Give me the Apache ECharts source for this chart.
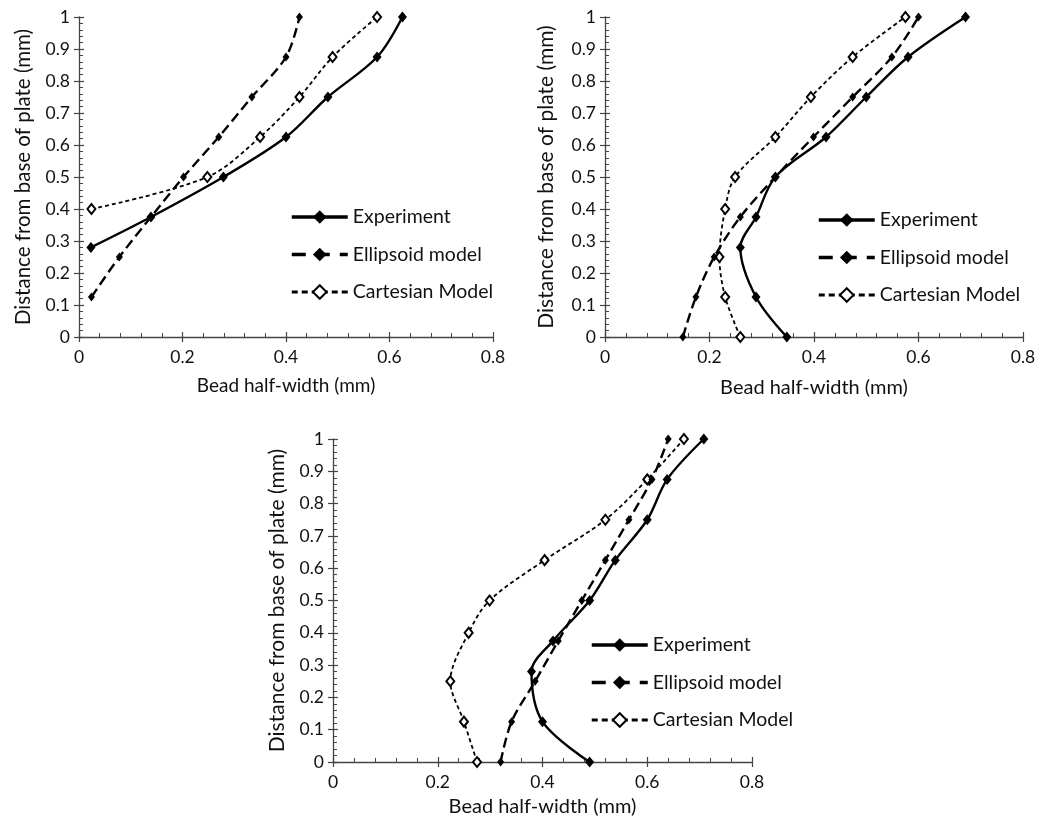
<!DOCTYPE html>
<html>
<head>
<meta charset="utf-8">
<script src="https://cdn.jsdelivr.net/npm/echarts@6/dist/echarts.min.js"></script>
<style>
  html, body { margin: 0; padding: 0; background: #fff; }
  #box { width: 1040px; height: 827px; }
</style>
</head>
<body>
<div id="box"></div>
<script>
// series names
var names = ["Experiment", "Ellipsoid model", "Cartesian Model"];

// tick labels
var xTicks = ["0", "0.2", "0.4", "0.6", "0.8"];
var yTicks = ["0", "0.1", "0.2", "0.3", "0.4", "0.5", "0.6", "0.7", "0.8", "0.9", "1"];

// panel 1 (top left)
var p1ExpH = [0.28, 0.375, 0.5, 0.625, 0.75, 0.875, 1];
var p1ExpW = [0.023, 0.139, 0.279, 0.4, 0.481, 0.576, 0.625];
var p1EllH = [0.125, 0.25, 0.375, 0.5, 0.625, 0.75, 0.875, 1];
var p1EllW = [0.024, 0.078, 0.139, 0.202, 0.27, 0.334, 0.4, 0.426];
var p1CarH = [0.4, 0.5, 0.625, 0.75, 0.875, 1];
var p1CarW = [0.024, 0.248, 0.35, 0.426, 0.49, 0.576];

// panel 2 (top right)
var p2ExpH = [0, 0.125, 0.28, 0.375, 0.5, 0.625, 0.75, 0.875, 1];
var p2ExpW = [0.348, 0.289, 0.259, 0.289, 0.326, 0.423, 0.5, 0.58, 0.69];
var p2EllH = [0, 0.125, 0.25, 0.375, 0.5, 0.625, 0.75, 0.875, 1];
var p2EllW = [0.149, 0.174, 0.209, 0.259, 0.326, 0.399, 0.474, 0.549, 0.6];
var p2CarH = [0, 0.125, 0.25, 0.4, 0.5, 0.625, 0.75, 0.875, 1];
var p2CarW = [0.259, 0.23, 0.219, 0.23, 0.249, 0.326, 0.394, 0.474, 0.575];

// panel 3 (bottom)
var p3ExpH = [0, 0.125, 0.28, 0.375, 0.5, 0.625, 0.75, 0.875, 1];
var p3ExpW = [0.49, 0.4, 0.379, 0.42, 0.49, 0.539, 0.6, 0.638, 0.708];
var p3EllH = [0, 0.125, 0.25, 0.375, 0.5, 0.625, 0.75, 0.875, 1];
var p3EllW = [0.32, 0.341, 0.386, 0.43, 0.475, 0.52, 0.565, 0.609, 0.64];
var p3CarH = [0, 0.125, 0.25, 0.4, 0.5, 0.625, 0.75, 0.875, 1];
var p3CarW = [0.275, 0.25, 0.224, 0.259, 0.299, 0.404, 0.52, 0.6, 0.67];

(function () {
    var myChart = echarts.init(document.getElementById("box"));
    var font = "Lato";
    var ink = "#111";
    var axisColor = "#444";

    function pairs(w, h) {
        return w.map(function (v, i) { return [v, h[i]]; });
    }

    // grid boxes
    var grids = [
        { left: 79, top: 17, width: 414, height: 320 },
        { left: 605, top: 17, width: 418, height: 320 },
        { left: 333, top: 439, width: 419, height: 323 }
    ];
    var nameGapX = [39, 41, 35];
    var nameGapY = [45, 48, 45];
    var titleX = [19, 20, 20];
    var titleY = [20.5, 21, 21];

    var xAxes = [], yAxes = [];
    grids.forEach(function (g, i) {
        // main axes: labels, inside ticks, minor ticks
        xAxes.push({
            type: "value", gridIndex: i, position: "bottom",
            min: 0, max: 0.8, interval: 0.2,
            name: "Bead half-width (mm)", nameLocation: "middle", nameGap: nameGapX[i],
            nameTextStyle: { fontFamily: font, fontSize: titleX[i], color: ink },
            axisLine: { show: true, lineStyle: { color: axisColor, width: 1.3 } },
            axisTick: { show: true, inside: true, length: 5, lineStyle: { color: axisColor, width: 1.2 } },
            minorTick: { show: true, splitNumber: 5, length: 4, lineStyle: { color: axisColor, width: 1 } },
            axisLabel: {
                margin: 11, fontFamily: font, fontSize: 17.5, color: ink,
                formatter: function (v, idx) { return xTicks[idx]; }
            },
            splitLine: { show: false }
        });
        yAxes.push({
            type: "value", gridIndex: i, position: "left",
            min: 0, max: 1, interval: 0.1,
            name: "Distance from base of plate (mm)", nameLocation: "middle", nameGap: nameGapY[i],
            nameTextStyle: { fontFamily: font, fontSize: titleY[i], color: ink },
            axisLine: { show: true, lineStyle: { color: axisColor, width: 1.3 } },
            axisTick: { show: true, inside: true, length: 5, lineStyle: { color: axisColor, width: 1.2 } },
            minorTick: { show: true, splitNumber: 5, length: 4, lineStyle: { color: axisColor, width: 1 } },
            axisLabel: {
                margin: 9, fontFamily: font, fontSize: 17.5, color: ink,
                formatter: function (v, idx) { return yTicks[idx]; }
            },
            splitLine: { show: false }
        });
    });
    // overlay axes for the outside half of the crossing major ticks
    grids.forEach(function (g, i) {
        xAxes.push({
            type: "value", gridIndex: i, position: "bottom",
            min: 0, max: 0.8, interval: 0.2,
            axisLine: { show: false },
            axisTick: { show: true, inside: false, length: 5, lineStyle: { color: axisColor, width: 1.2 } },
            axisLabel: { show: false }, splitLine: { show: false }
        });
        yAxes.push({
            type: "value", gridIndex: i, position: "left",
            min: 0, max: 1, interval: 0.1,
            axisLine: { show: false },
            axisTick: { show: true, inside: false, length: 5, lineStyle: { color: axisColor, width: 1.2 } },
            axisLabel: { show: false }, splitLine: { show: false }
        });
    });

    var styles = [
        { symbol: "diamond", symbolSize: [9, 11], lineStyle: { color: "#000", width: 2.4, type: "solid" }, itemStyle: { color: "#000" } },
        { symbol: "diamond", symbolSize: [7, 9], lineStyle: { color: "#000", width: 2.4, type: [10, 5] }, itemStyle: { color: "#000" } },
        { symbol: "emptyDiamond", symbolSize: [8, 10], lineStyle: { color: "#000", width: 1.8, type: [4, 3] }, itemStyle: { color: "#000", borderWidth: 1.8 } }
    ];

    var panels = [
        [pairs(p1ExpW, p1ExpH), pairs(p1EllW, p1EllH), pairs(p1CarW, p1CarH)],
        [pairs(p2ExpW, p2ExpH), pairs(p2EllW, p2EllH), pairs(p2CarW, p2CarH)],
        [pairs(p3ExpW, p3ExpH), pairs(p3EllW, p3EllH), pairs(p3CarW, p3CarH)]
    ];

    var series = [];
    panels.forEach(function (sets, p) {
        sets.forEach(function (d, k) {
            var s = styles[k];
            series.push({
                name: names[k], type: "line",
                xAxisIndex: p, yAxisIndex: p,
                data: d, smooth: 0.33,
                symbol: s.symbol, symbolSize: s.symbolSize,
                showAllSymbol: true, clip: false,
                lineStyle: s.lineStyle, itemStyle: s.itemStyle,
                emphasis: { disabled: true },
                z: 3 - k
            });
        });
    });

    // legend boxes, with heavier icons like the original
    var legendIcons = [
        { name: names[0], lineStyle: { width: 3.5, type: "solid" } },
        { name: names[1], lineStyle: { width: 3.5, type: [14, 10] } },
        { name: names[2], lineStyle: { width: 3, type: [6, 4] }, itemStyle: { borderWidth: 2.5 } }
    ];
    var legendPos = [
        { left: 290, top: 207 },
        { left: 817, top: 210 },
        { left: 590, top: 635 }
    ];
    var legends = legendPos.map(function (pos) {
        return {
            data: legendIcons, orient: "vertical",
            left: pos.left, top: pos.top, padding: 0,
            itemWidth: 56, itemHeight: 17, itemGap: 17.5,
            selectedMode: false,
            textStyle: { fontFamily: font, fontSize: 19.5, color: ink, lineHeight: 20 }
        };
    });

    var option = {
        backgroundColor: "#fff",
        animation: false,
        grid: grids,
        xAxis: xAxes,
        yAxis: yAxes,
        legend: legends,
        series: series
    };

    myChart.setOption(option);

    window.addEventListener("resize", function () {
        myChart.resize();
    });
})();
</script>
</body>
</html>
